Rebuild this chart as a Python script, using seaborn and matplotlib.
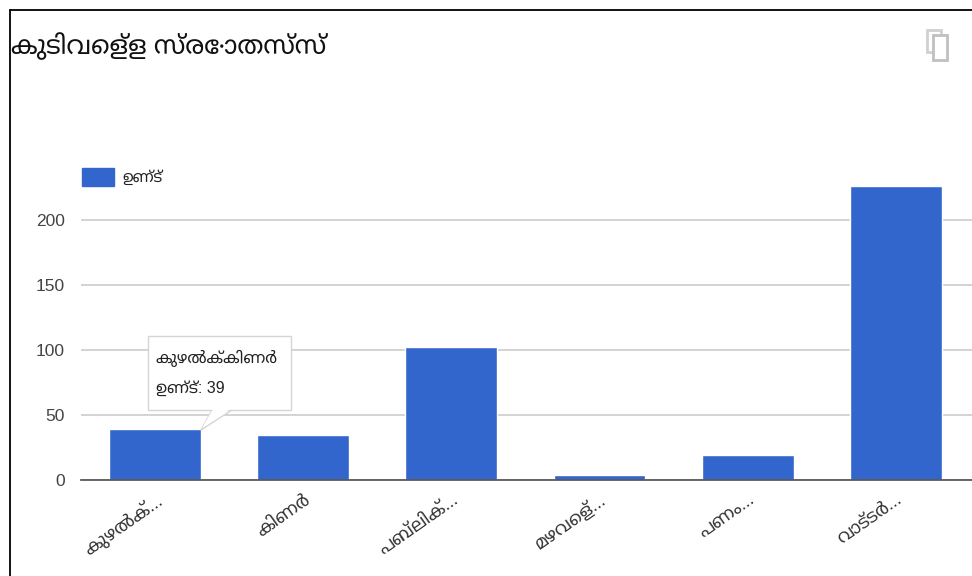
import matplotlib
matplotlib.use("Agg")
import matplotlib.pyplot as plt
import matplotlib.patches as mp
import seaborn as sns
import pandas as pd

title = "കുടിവെള്ള സ്രോതസ്സ്"
series_name = "ഉണ്ട്"
categories = ["കുഴൽക്...", "കിണർ", "പബ്ലിക്...", "മഴവെള്...", "പണം...", "വാട്ടർ..."]
values = [39, 35, 102, 4, 19, 226]
yticks = [0, 50, 100, 150, 200]
tip_name = "കുഴൽക്കിണർ"
tip_value = "ഉണ്ട്: 39"

W, H = 972, 576
sns.set_theme(style="white")
plt.rcParams["font.family"] = ["Liberation Sans", "Noto Sans Malayalam", "DejaVu Sans"]
fig = plt.figure(figsize=(W/100, H/100), dpi=100)
ax = fig.add_axes([81/W, (H-480)/H, (W-81)/W, 380/H])
df = pd.DataFrame({"cat": categories, "val": values})
sns.barplot(df, x="cat", y="val", color="#3366CC", saturation=1, width=0.62, ax=ax, zorder=3)
ax.set_xlim(-0.5, 5.514)
ax.set_ylim(0, 380/1.3)
ax.set_yticks(yticks)
ax.set_xlabel(""); ax.set_ylabel("")
ax.grid(axis="y", color="#CCCCCC", lw=1.2, zorder=0)
for s in ax.spines.values():
    s.set_visible(False)
ax.spines["bottom"].set_visible(True)
ax.spines["bottom"].set_color("#555555")
ax.spines["bottom"].set_zorder(4)
ax.tick_params(axis="y", labelsize=12.5, colors="#444444", length=0, pad=11.5)
ax.tick_params(axis="x", labelsize=13, colors="#333333", length=0, pad=8)
for lab in ax.get_xticklabels():
    lab.set_rotation(35); lab.set_ha("right"); lab.set_rotation_mode("anchor")

fig.add_artist(plt.Line2D([10/W, 10/W], [0, 1-10/H], color="black", lw=1.3))
fig.add_artist(plt.Line2D([10/W, 1], [1-10/H, 1-10/H], color="black", lw=1.3))
fig.text(11/W, 1-46/H, title, fontsize=18.5, color="#111111", va="center")
fig.add_artist(mp.Rectangle((82/W, 1-186/H), 32/W, 18/H, color="#3366CC", transform=fig.transFigure))
fig.text(122/W, 1-177/H, series_name, fontsize=11, color="#222222", va="center")

# copy icon
fig.add_artist(mp.Rectangle((927/W, 1-52/H), 14/W, 22/H, fc="white", ec="#D0D0D0", lw=2, transform=fig.transFigure))
fig.add_artist(mp.Rectangle((933/W, 1-60/H), 14/W, 25/H, fc="white", ec="#C0C0C0", lw=2, transform=fig.transFigure))

fig.add_artist(mp.Polygon([(201/W, 1-430/H), (212/W, 1-410/H), (232/W, 1-410/H)], closed=True, fc="white", ec="#D5D5D5", lw=1, transform=fig.transFigure, zorder=5))
fig.add_artist(mp.Rectangle((148/W, 1-410/H), 143/W, 74/H, fc="white", ec="#D5D5D5", lw=1, transform=fig.transFigure, zorder=5))
fig.add_artist(mp.Polygon([(202/W, 1-428/H), (213/W, 1-409/H), (230/W, 1-409/H)], closed=True, fc="white", ec="none", transform=fig.transFigure, zorder=5))
fig.text(156/W, 1-358/H, tip_name, fontsize=11.5, fontweight="bold", color="#222222", va="center", zorder=6)
fig.text(156/W, 1-388/H, tip_value, fontsize=11.5, color="#222222", va="center", zorder=6)
fig.savefig("out.png", dpi=100)
